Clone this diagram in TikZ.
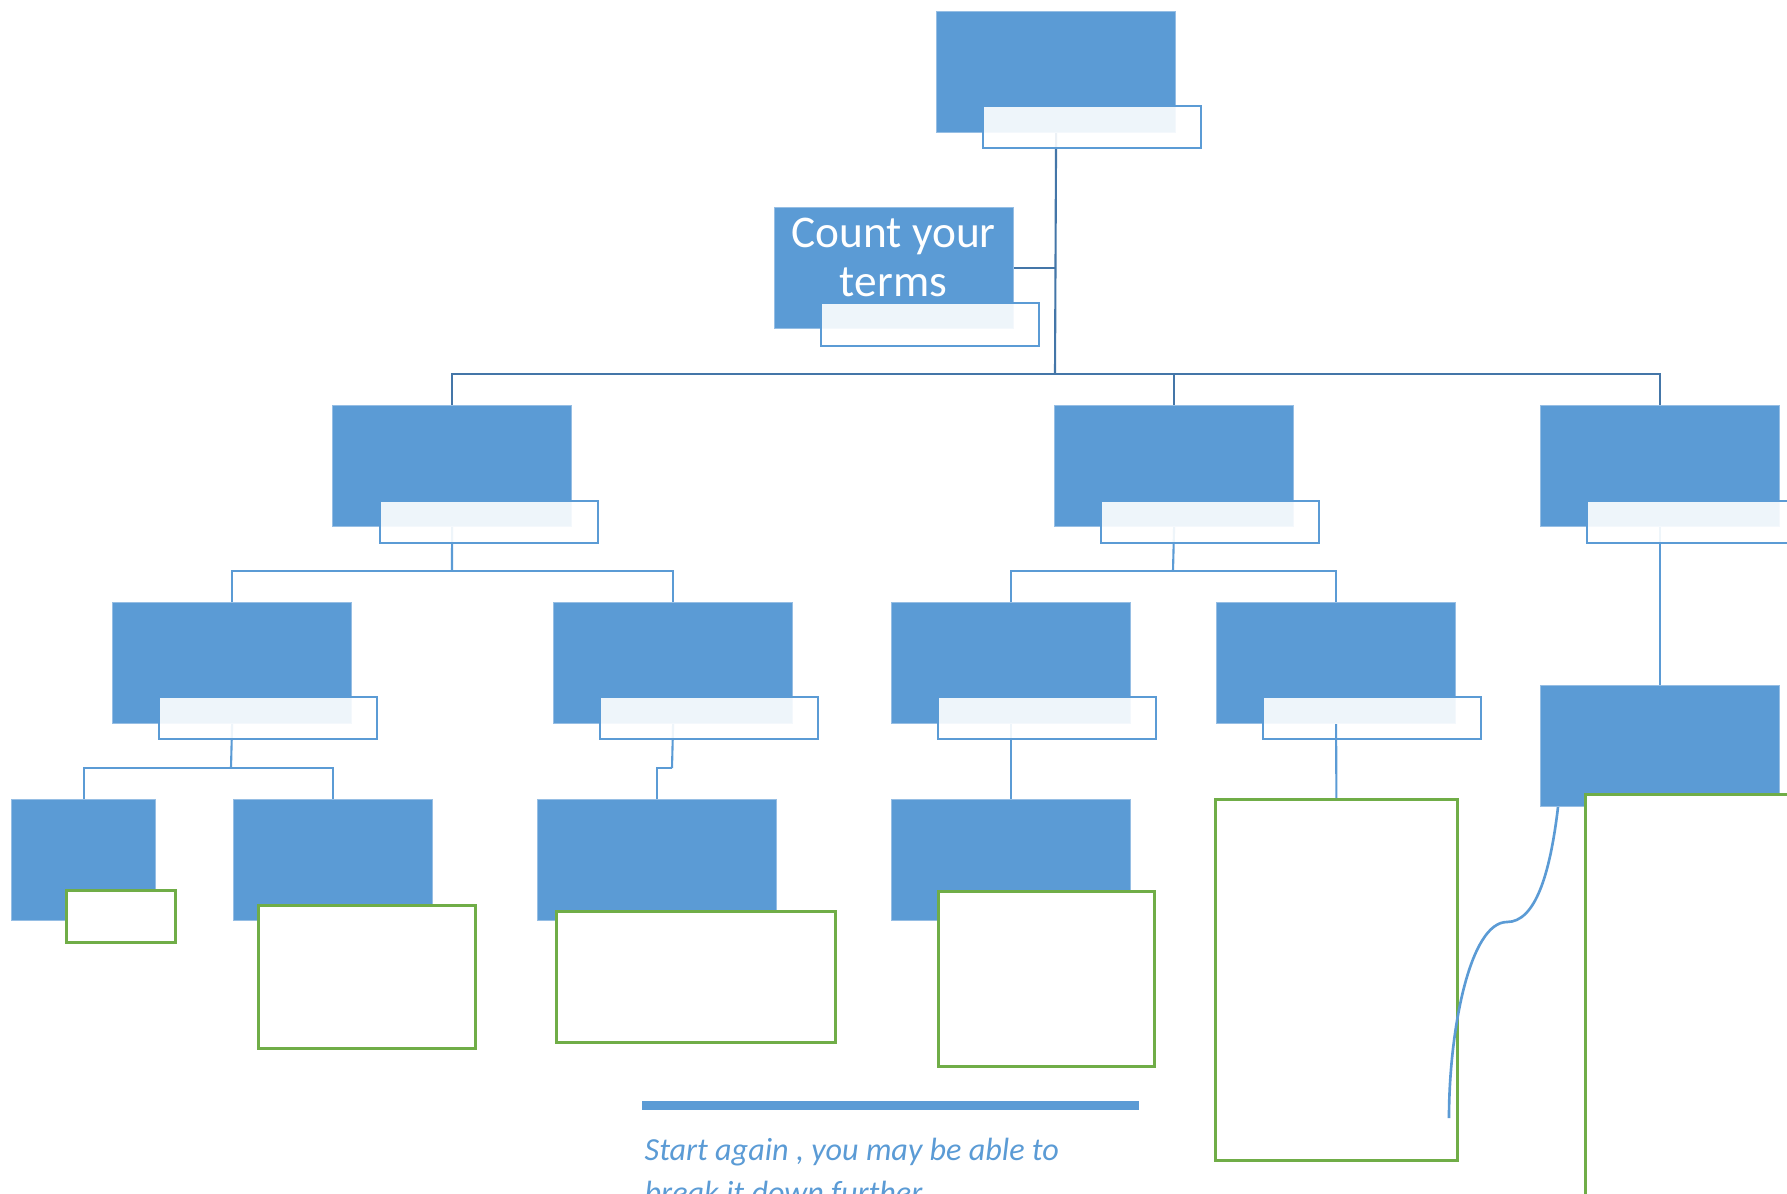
\documentclass[tikz,border=0pt]{standalone}
\usepackage{fontspec}
\setmainfont{Carlito}
\definecolor{bblue}{RGB}{91,155,213}
\definecolor{bedge}{RGB}{150,190,228}
\definecolor{conn}{RGB}{68,118,168}
\definecolor{ggreen}{RGB}{112,173,71}
\begin{document}
\begin{tikzpicture}[x=0.01cm,y=-0.01cm,
  bx/.style={rectangle, fill=bblue, draw=bedge, line width=0.3pt, minimum width=2.39cm, minimum height=1.21cm, inner sep=0pt, anchor=north west},
  lab/.style={rectangle, draw=bblue, line width=0.6pt, fill=white, fill opacity=0.9, draw opacity=1, minimum width=2.18cm, minimum height=0.42cm, inner sep=0pt, anchor=north west},
  grn/.style={rectangle, draw=ggreen, line width=0.75pt, fill=white, inner sep=0pt, anchor=north west},
  cn/.style={draw=conn, line width=0.6pt},
  cl/.style={draw=bblue, line width=0.6pt},
  ctext/.style={anchor=base, inner sep=0pt, text=white, font=\fontsize{12.9}{14}\selectfont},
  btext/.style={anchor=base west, inner sep=0pt, text=bblue, font=\fontsize{9.15}{12}\selectfont\itshape}]
\useasboundingbox (0,0) rectangle (1787,1194);
\clip (0,0) rectangle (1787,1194);
% blue boxes
\node[bx] (top) at (936,11) {};
\node[bx] (cnt) at (774,207) {};
\node[ctext] (cntA) at (893.5,248) {Count your};
\node[ctext] (cntB) at (893.5,297) {terms};
\node[bx] (B1) at (332,405) {};
\node[bx] (B2) at (1054,405) {};
\node[bx] (B3) at (1540,405) {};
\node[bx] (C1) at (112,602) {};
\node[bx] (C2) at (553,602) {};
\node[bx] (C3) at (891,602) {};
\node[bx] (C4) at (1216,602) {};
\node[bx] (C5) at (1540,685) {};
\node[bx, minimum width=1.44cm] (D1) at (11,799) {};
\node[bx, minimum width=1.99cm] (D2) at (233,799) {};
\node[bx] (D3) at (537,799) {};
\node[bx] (D4) at (891,799) {};
% connectors
\coordinate (j0) at (1055,374);
\coordinate (j1) at (452,571);
\coordinate (j2) at (1173,571);
\coordinate (j3) at (231,768);
\coordinate (j4) at (672,768);
\draw[cn] (top.south) -- (j0);
\draw[cn] (cnt.east) -- (cnt.east -| top.south);
\draw[cn] (j0) -| (B1.north);
\draw[cn] (j0) -| (B2.north);
\draw[cn] (j0) -| (B3.north);
\draw[cl] (B1.south) -- (j1);
\draw[cl] (j1) -| (C1.north);
\draw[cl] (j1) -| (C2.north);
\draw[cl] (B2.south) -- (j2);
\draw[cl] (j2) -| (C3.north);
\draw[cl] (j2) -| (C4.north);
\draw[cl] (B3.south) -- (C5.north);
\draw[cl] (C1.south) -- (j3);
\draw[cl] (j3) -| (D1.north);
\draw[cl] (j3) -| (D2.north);
\draw[cl] (C2.south) -- (j4);
\draw[cl] (j4) -| (D3.north);
\draw[cl] (C3.south) -- (D4.north);
% labels
\node[lab] (Ltop) at (982,105) {};
\node[lab, minimum height=0.43cm] (Lcnt) at (820,302) {};
\node[lab] (LB1) at (379,500) {};
\node[lab] (LB2) at (1100,500) {};
\node[lab] (LB3) at (1586,500) {};
\node[lab] (LC1) at (158,696) {};
\node[lab] (LC2) at (599,696) {};
\node[lab] (LC3) at (937,696) {};
\node[lab] (LC4) at (1262,696) {};
% green boxes
\node[grn, minimum width=1.09cm, minimum height=0.52cm] (g1) at (65,889) {};
\node[grn, minimum width=2.17cm, minimum height=1.43cm] (g2) at (257,904) {};
\node[grn, minimum width=2.79cm, minimum height=1.31cm] (g3) at (555,910) {};
\node[grn, minimum width=2.16cm, minimum height=1.75cm] (g4) at (937,890) {};
\node[grn, minimum width=2.42cm, minimum height=3.61cm] (g5) at (1214,798) {};
\node[grn, minimum width=3.00cm, minimum height=5.00cm] (g6) at (1584,793) {};
\draw[cl] (C4.south) -- (g5.north);
% curve
\coordinate (cv0) at ([xshift=0.18cm]C5.south west);
\coordinate (cv1) at (1507,922);
\coordinate (cv2) at (1449,1118);
\draw[draw=bblue, line width=0.75pt] (cv0) .. controls (1550,875) and (1535,922) .. (cv1) .. controls (1470,922) and (1449,1030) .. (cv2);
% bottom bar and text
\node[rectangle, fill=bblue, inner sep=0pt, minimum width=4.97cm, minimum height=0.09cm, anchor=north west] (bar) at (641,1100) {};
\node[btext] (t1) at (644,1160) {Start again , you may be able to};
\node[btext] (t2) at (644,1203) {break it down further};
\end{tikzpicture}
\end{document}
